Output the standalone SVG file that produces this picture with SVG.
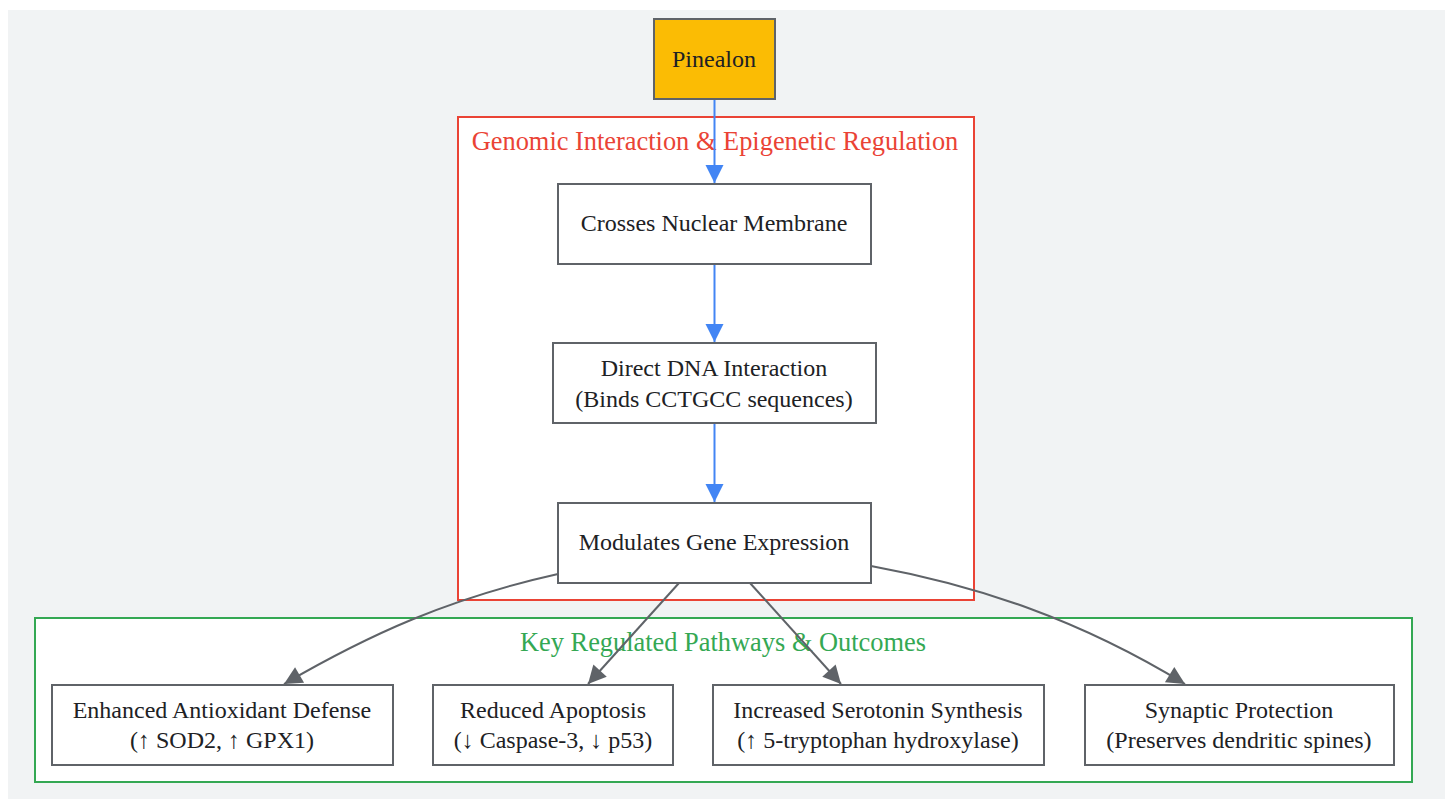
<svg xmlns="http://www.w3.org/2000/svg" width="1445" height="799" viewBox="0 0 1445 799">
<defs>
<style>
.bg{fill:#f1f3f4}
.node rect{fill:#ffffff;stroke:#5f6368;stroke-width:2}
.node text,.lbl{font-family:"Liberation Serif","DejaVu Serif",serif;text-anchor:middle;dominant-baseline:central}
.node text{font-size:24px;fill:#202124}
.lbl{font-size:26.4px}
.cl{fill:#ffffff;stroke-width:2}
.blue{fill:none;stroke:#4285f4;stroke-width:2}
.gray{fill:none;stroke:#5f6368;stroke-width:2}
</style>
<marker id="ab" viewBox="0 0 10 10" refX="10" refY="5" markerUnits="userSpaceOnUse" markerWidth="18" markerHeight="26" orient="auto">
<path d="M0,0 L10,5 L0,10 z" fill="#4285f4"/>
</marker>
<marker id="ag" viewBox="0 0 10 10" refX="10" refY="5" markerUnits="userSpaceOnUse" markerWidth="26" markerHeight="18" orient="auto">
<path d="M0,0 L10,5 L0,10 z" fill="#5f6368"/>
</marker>
</defs>
<rect class="bg" x="8" y="10" width="1437" height="789"/>
<g id="cluster-genomic">
<rect class="cl" x="458" y="117" width="516" height="483" stroke="#ea4335"/>
<text class="lbl" x="715" y="141" fill="#ea4335">Genomic Interaction &amp; Epigenetic Regulation</text>
</g>
<g id="cluster-outcomes">
<rect class="cl" x="35" y="618" width="1377" height="164" stroke="#34a853"/>
<text class="lbl" x="723" y="642" fill="#34a853">Key Regulated Pathways &amp; Outcomes</text>
</g>
<g id="connectors">
<path class="blue" d="M714.5,99 L714.5,183" marker-end="url(#ab)"/>
<path class="blue" d="M714.5,264 L714.5,342" marker-end="url(#ab)"/>
<path class="blue" d="M714.5,423 L714.5,502" marker-end="url(#ab)"/>
<path class="gray" d="M558,574 C450,598 370,634 284,684" marker-end="url(#ag)"/>
<path class="gray" d="M679,583 L588,684" marker-end="url(#ag)"/>
<path class="gray" d="M750,583 L841,684" marker-end="url(#ag)"/>
<path class="gray" d="M871,566 C980,586 1080,620 1185,684" marker-end="url(#ag)"/>
</g>
<g id="pinealon" class="node">
<rect x="654" y="19" width="121" height="80" style="fill:#fbbc04"/>
<text x="714" y="59">Pinealon</text>
</g>
<g id="crosses" class="node">
<rect x="558" y="184" width="313" height="80"/>
<text x="714" y="223">Crosses Nuclear Membrane</text>
</g>
<g id="dna" class="node">
<rect x="553" y="343" width="323" height="80"/>
<text x="714" y="368">Direct DNA Interaction</text>
<text x="714" y="399">(Binds CCTGCC sequences)</text>
</g>
<g id="modulates" class="node">
<rect x="558" y="503" width="313" height="80"/>
<text x="714" y="542">Modulates Gene Expression</text>
</g>
<g id="antioxidant" class="node">
<rect x="52" y="685" width="341" height="80"/>
<text x="222" y="710">Enhanced Antioxidant Defense</text>
<text x="222" y="740">(↑ SOD2, ↑ GPX1)</text>
</g>
<g id="apoptosis" class="node">
<rect x="433" y="685" width="240" height="80"/>
<text x="553" y="710">Reduced Apoptosis</text>
<text x="553" y="740">(↓ Caspase-3, ↓ p53)</text>
</g>
<g id="serotonin" class="node">
<rect x="713" y="685" width="331" height="80"/>
<text x="878" y="710">Increased Serotonin Synthesis</text>
<text x="878" y="740">(↑ 5-tryptophan hydroxylase)</text>
</g>
<g id="synaptic" class="node">
<rect x="1085" y="685" width="309" height="80"/>
<text x="1239" y="710">Synaptic Protection</text>
<text x="1239" y="740">(Preserves dendritic spines)</text>
</g>
</svg>
